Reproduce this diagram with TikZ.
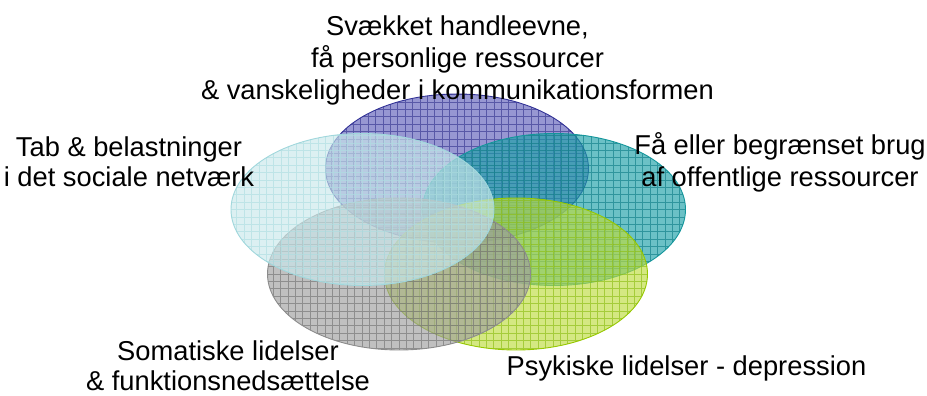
\documentclass[tikz,border=0pt]{standalone}
\usepackage{fontspec}
\setmainfont{Liberation Sans}
\usetikzlibrary{shapes.geometric}
\definecolor{pfill}{RGB}{96,96,186}\definecolor{pgrid}{RGB}{55,55,145}\definecolor{pline}{RGB}{50,50,150}
\definecolor{tfill}{RGB}{28,160,168}\definecolor{tgrid}{RGB}{15,125,135}\definecolor{tline}{RGB}{20,150,155}
\definecolor{cfill}{RGB}{202,232,235}\definecolor{cgrid}{RGB}{175,222,226}\definecolor{cline}{RGB}{160,215,220}
\definecolor{gfill}{RGB}{158,158,158}\definecolor{ggrid}{RGB}{115,115,115}\definecolor{gline}{RGB}{140,140,140}
\definecolor{lfill}{RGB}{189,220,63}\definecolor{lgrid}{RGB}{140,190,20}\definecolor{lline}{RGB}{150,200,0}
\tikzset{
  venn/.style n args={3}{ellipse, inner sep=0pt, outer sep=0pt,
    minimum width=263pt, minimum height=152pt,
    draw=#3, line width=0.9pt, fill=#1, fill opacity=0.65,
    path picture={\draw[#2, line width=0.7pt, opacity=0.65]
      (path picture bounding box.south west) grid[step=7.4pt]
      (path picture bounding box.north east);}},
  lbl/.style={align=center, anchor=base, inner sep=0pt,
    font=\fontsize{27.3}{32}\selectfont}
}
\begin{document}
\begin{tikzpicture}[x=1pt,y=1pt]
\useasboundingbox (0,0) rectangle (927,396);
\node[venn={pfill}{pgrid}{pline}, minimum height=149pt] (top) at (457,227.5) {};
\node[venn={tfill}{tgrid}{tline}] (right) at (554,186.5) {};
\node[venn={lfill}{lgrid}{lline}] (bright) at (516,122) {};
\node[venn={gfill}{ggrid}{gline}] (bleft) at (399,122) {};
\node[venn={cfill}{cgrid}{cline}] (left) at (362.5,186.5) {};
\node[lbl] (ttop) at (457.5,296) {Svækket handleevne,\\få personlige ressourcer\\\& vanskeligheder i kommunikationsformen};
\node[lbl, font=\fontsize{27.3}{30}\selectfont] (tleft) at (129,209) {Tab \& belastninger\\i det sociale netværk};
\node[lbl] (tright) at (780,209) {Få eller begrænset brug\\af offentlige ressourcer};
\node[lbl, font=\fontsize{27.3}{30}\selectfont] (tbleft) at (228,5) {Somatiske lidelser\\\& funktionsnedsættelse};
\node[lbl] (tbright) at (686.5,20) {Psykiske lidelser - depression};
\end{tikzpicture}
\end{document}
